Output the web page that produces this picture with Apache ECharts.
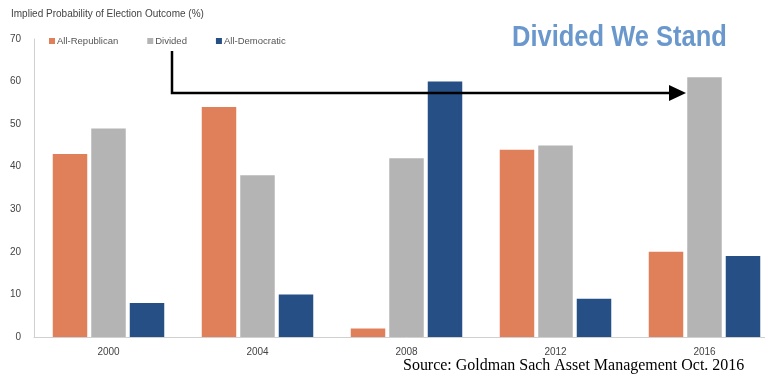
<!DOCTYPE html>
<html><head><meta charset="utf-8">
<script src="https://cdn.jsdelivr.net/npm/echarts@6/dist/echarts.min.js"></script>
<style>html,body{margin:0;padding:0;background:#fff;overflow:hidden}#c{width:780px;height:374px}</style>
</head><body><div id="c"></div>
<script>
var categories = ['2000', '2004', '2008', '2012', '2016'];
var republican = [43, 54, 2, 44, 20];
var divided = [49, 38, 42, 45, 61];
var democratic = [8, 10, 60, 9, 19];
var yTicks = [0, 10, 20, 30, 40, 50, 60, 70];

var chart = echarts.init(document.getElementById('c'));
var font = 'Liberation Sans, Arial, sans-serif';
chart.setOption({
  animation: false,
  grid: {left: 34, top: 39, bottom: 37, right: 1, containLabel: false},
  legend: {
    left: 49, top: 36, padding: 0, itemWidth: 6, itemHeight: 6, itemGap: 29,
    icon: 'rect',
    textStyle: {fontFamily: font, fontSize: 9.5, color: '#555', padding: [0, 0, 0, -3]},
    data: ['All-Republican', 'Divided', 'All-Democratic']
  },
  xAxis: {
    type: 'category', data: categories,
    axisLine: {lineStyle: {color: '#d0d0d0', width: 1}},
    axisTick: {show: false},
    axisLabel: {fontFamily: font, fontSize: 10, color: '#444', margin: 10}
  },
  yAxis: {
    type: 'value', min: 0, max: 70, interval: 10,
    axisLine: {show: true, lineStyle: {color: '#d0d0d0', width: 1}},
    axisTick: {show: false},
    splitLine: {show: false},
    axisLabel: {fontFamily: font, fontSize: 10, color: '#444', margin: 13,
      formatter: function (v) { return yTicks.indexOf(v) >= 0 ? String(v) : ''; }}
  },
  series: [
    {name: 'All-Republican', type: 'bar', data: republican, barWidth: 34.5, barGap: '11.6%',
     itemStyle: {color: '#E0805B'}},
    {name: 'Divided', type: 'bar', data: divided, barWidth: 34.5, barGap: '11.6%',
     itemStyle: {color: '#B4B4B4'}},
    {name: 'All-Democratic', type: 'bar', data: democratic, barWidth: 34.5, barGap: '11.6%',
     itemStyle: {color: '#264F86'}}
  ],
  graphic: [
    {type: 'text', x: 11, y: 9, style: {text: 'Implied Probability of Election Outcome (%)',
      font: '10px ' + font, fill: '#444'}},
    {type: 'text', x: 512, y: 23, scaleX: 0.85, style: {text: 'Divided We Stand',
      font: 'bold 30px ' + font, fill: '#6A98CC'}},
    {type: 'text', x: 403, y: 357, scaleX: 0.94, z: 50, style: {text: 'Source: Goldman Sach Asset Management Oct. 2016',
      font: '17px Liberation Serif, Times New Roman, serif', fill: '#000'}},
    {type: 'polyline', shape: {points: [[172, 51], [172, 93], [672, 93]]},
      style: {stroke: '#000', lineWidth: 2.5, fill: null}, z: 100},
    {type: 'polygon', shape: {points: [[669, 85], [686, 93], [669, 101]]},
      style: {fill: '#000'}, z: 100}
  ]
});
</script></body></html>
